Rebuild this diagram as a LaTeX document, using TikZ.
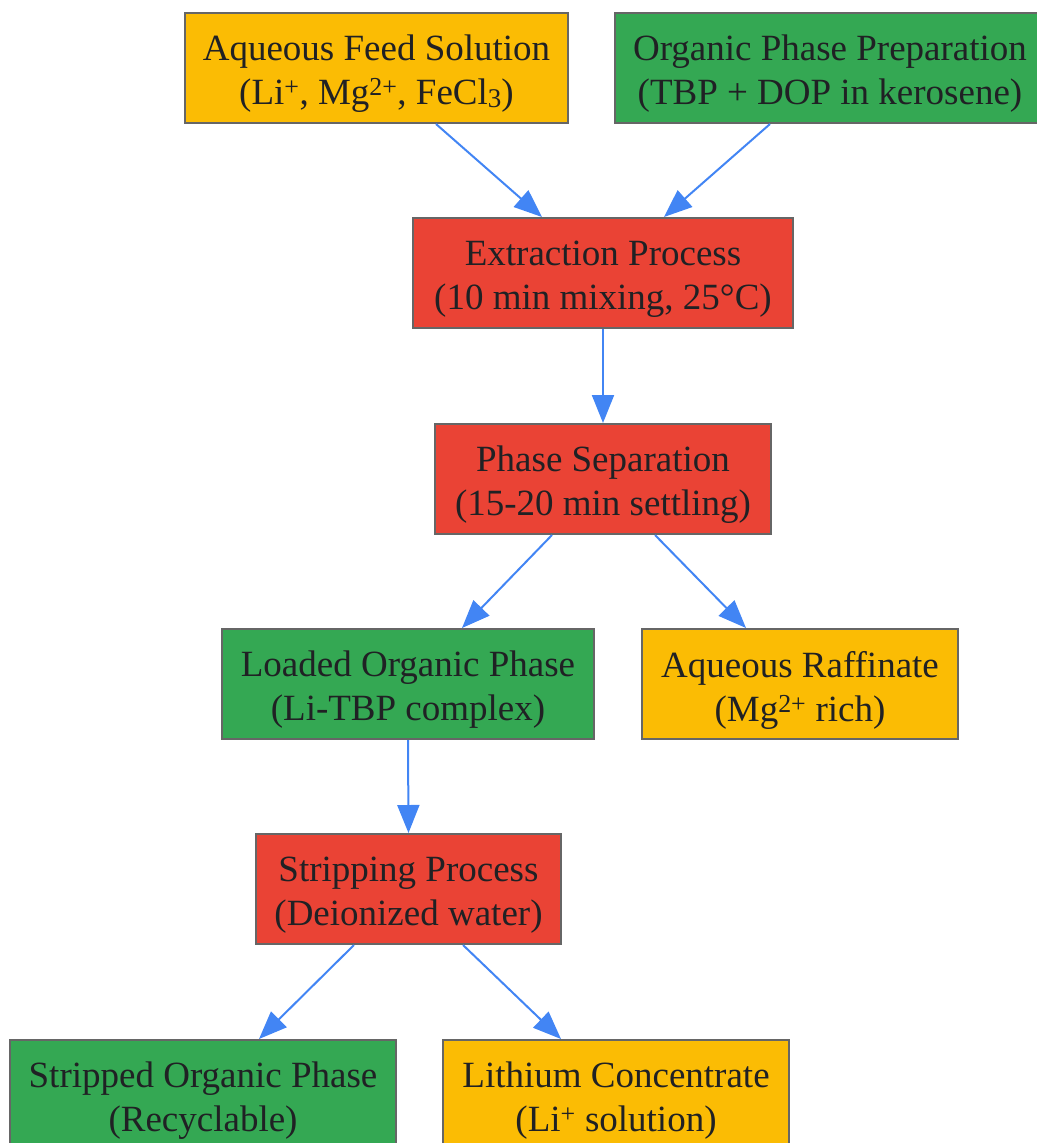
\documentclass[tikz,border=0pt]{standalone}
\usepackage{fontspec}
\setmainfont{Liberation Serif}
\usetikzlibrary{arrows.meta}
\definecolor{cyellow}{HTML}{FBBC04}
\definecolor{cgreen}{HTML}{34A853}
\definecolor{cred}{HTML}{EA4335}
\definecolor{cblue}{HTML}{4285F4}
\definecolor{cborder}{HTML}{666666}
\definecolor{ctext}{HTML}{202124}
\newcommand{\subthree}{\raisebox{-3pt}{\fontsize{27}{27}\selectfont 3}}
\begin{document}
\begin{tikzpicture}[x=1pt,y=-1pt,
  box/.style={draw=cborder,line width=2pt,rectangle,inner sep=0pt,minimum height=110pt},
  txt/.style={align=center,inner sep=0pt,text=ctext,font=\fontsize{37}{44}\selectfont,yshift=-6pt},
  ybox/.style={box,fill=cyellow},
  gbox/.style={box,fill=cgreen},
  rbox/.style={box,fill=cred},
  link/.style={draw=cblue,line width=2pt,-{Triangle[length=28pt,width=22pt]}}]
\useasboundingbox (0,0) rectangle (1036,1143);
\node[ybox,minimum width=383pt,label={[txt]center:Aqueous Feed Solution\\(Li\textsuperscript{+}, Mg\textsuperscript{2+}, FeCl\subthree)}] (feed) at (376.5,68) {};
\node[gbox,minimum width=430pt,label={[txt]center:Organic Phase Preparation\\(TBP + DOP in kerosene)}] (org) at (830,68) {};
\node[rbox,minimum width=380pt,label={[txt]center:Extraction Process\\(10 min mixing, 25°C)}] (ext) at (603,273) {};
\node[rbox,minimum width=336pt,label={[txt]center:Phase Separation\\(15-20 min settling)}] (sep) at (603,479) {};
\node[gbox,minimum width=372pt,label={[txt]center:Loaded Organic Phase\\(Li-TBP complex)}] (load) at (408,684) {};
\node[ybox,minimum width=316pt,label={[txt]center:Aqueous Raffinate\\(Mg\textsuperscript{2+} rich)}] (raff) at (800,684) {};
\node[rbox,minimum width=305pt,label={[txt]center:Stripping Process\\(Deionized water)}] (strip) at (408.5,889) {};
\node[gbox,minimum width=386pt,label={[txt]center:Stripped Organic Phase\\(Recyclable)}] (sorg) at (203,1095) {};
\node[ybox,minimum width=346pt,label={[txt]center:Lithium Concentrate\\(Li\textsuperscript{+} solution)}] (lith) at (616,1095) {};
\draw[link] ([xshift=59.5pt]feed.south) -- ([xshift=-61pt]ext.north);
\draw[link] ([xshift=-60pt]org.south) -- ([xshift=61pt]ext.north);
\draw[link] (ext.south) -- (sep.north);
\draw[link] ([xshift=-51pt]sep.south) -- ([xshift=54pt]load.north);
\draw[link] ([xshift=52pt]sep.south) -- ([xshift=-54pt]raff.north);
\draw[link] (load.south) -- (strip.north);
\draw[link] ([xshift=-54.5pt]strip.south) -- ([xshift=56pt]sorg.north);
\draw[link] ([xshift=54.5pt]strip.south) -- ([xshift=-55pt]lith.north);
\end{tikzpicture}
\end{document}
